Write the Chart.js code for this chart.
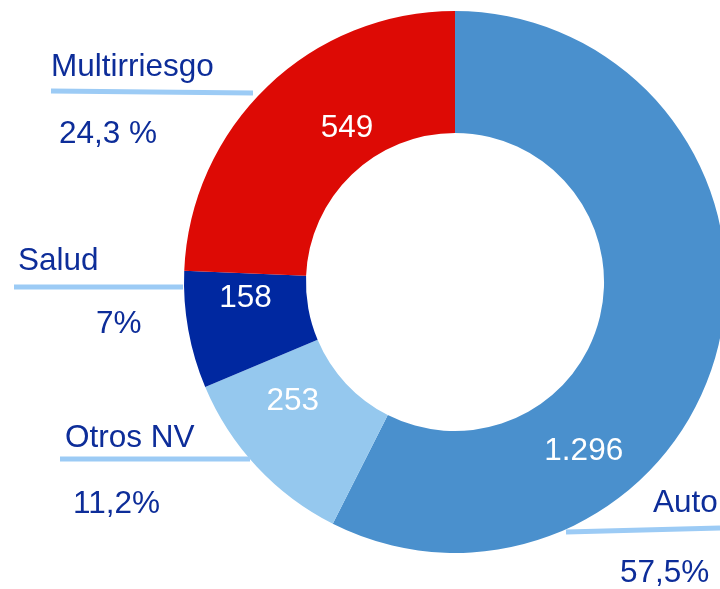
<!DOCTYPE html>
<html>
<head>
<meta charset="utf-8">
<script src="https://cdn.jsdelivr.net/npm/chart.js@4/dist/chart.umd.min.js"></script>
<style>
  html, body { margin: 0; padding: 0; background: #fff; }
  #wrap { width: 720px; height: 589px; overflow: hidden; position: relative; }
  canvas { display: block; }
</style>
</head>
<body>
<div id="wrap"><canvas id="chart" width="740" height="589"></canvas></div>
<script>
// Ramos, clockwise from the top
const categories = ['Auto', 'Otros NV', 'Salud', 'Multirriesgo'];
const values = [1296, 253, 158, 549];
const valueLabels = ['1.296', '253', '158', '549'];
const shareLabels = ['57,5%', '11,2%', '7%', '24,3 %'];
const colors = ['#4a90cd', '#95c8ee', '#0028a0', '#dd0a05'];

// where the white number sits inside each slice: fraction along the arc, fraction across the ring
const innerPos = [[0.69, 0.52], [0.665, 0.43], [0.73, 0.5], [0.6, 0.32]];
// outside labels: name x/baseline, underline x1,y1,x2,y2, share x/baseline
const outerPos = [
    { nx: 653, ny: 512, line: [566, 532, 720, 528], px: 620, py: 582 },
    { nx: 65, ny: 447, line: [60, 459, 250, 459], px: 73, py: 513 },
    { nx: 18, ny: 270, line: [14, 287, 183, 287], px: 96, py: 333 },
    { nx: 51, ny: 76, line: [51, 91, 253, 93], px: 59, py: 143 }
];

const labelPlugin = {
    id: 'labels',
    afterDatasetsDraw(chart) {
        const ctx = chart.ctx;
        const arcs = chart.getDatasetMeta(0).data;
        ctx.save();
        ctx.font = '31.5px "Liberation Sans", Arial, sans-serif';
        ctx.fillStyle = '#ffffff';
        ctx.textAlign = 'center';
        ctx.textBaseline = 'middle';
        arcs.forEach((arc, i) => {
            const p = arc.getProps(['x', 'y', 'startAngle', 'endAngle', 'innerRadius', 'outerRadius'], true);
            const a = p.startAngle + (p.endAngle - p.startAngle) * innerPos[i][0];
            const r = p.innerRadius + (p.outerRadius - p.innerRadius) * innerPos[i][1];
            ctx.fillText(valueLabels[i], p.x + Math.cos(a) * r, p.y + Math.sin(a) * r);
        });

        ctx.textAlign = 'left';
        ctx.textBaseline = 'alphabetic';
        outerPos.forEach((o, i) => {
            ctx.strokeStyle = '#9ccbf5';
            ctx.lineWidth = 5;
            ctx.beginPath();
            ctx.moveTo(o.line[0], o.line[1]);
            ctx.lineTo(o.line[2], o.line[3]);
            ctx.stroke();
            ctx.fillStyle = '#0d2d99';
            ctx.font = '31.5px "Liberation Sans", Arial, sans-serif';
            ctx.fillText(categories[i], o.nx, o.ny);
            ctx.fillText(shareLabels[i], o.px, o.py);
        });
        ctx.restore();
    }
};

new Chart(document.getElementById('chart'), {
    type: 'doughnut',
    data: {
        labels: categories,
        datasets: [{
            data: values,
            backgroundColor: colors,
            borderWidth: 0
        }]
    },
    options: {
        responsive: false,
        animation: false,
        cutout: '55%',
        layout: { padding: { left: 184, right: 14, top: 11, bottom: 36 } },
        plugins: {
            legend: { display: false },
            tooltip: { enabled: false }
        }
    },
    plugins: [labelPlugin]
});
</script>
</body>
</html>
